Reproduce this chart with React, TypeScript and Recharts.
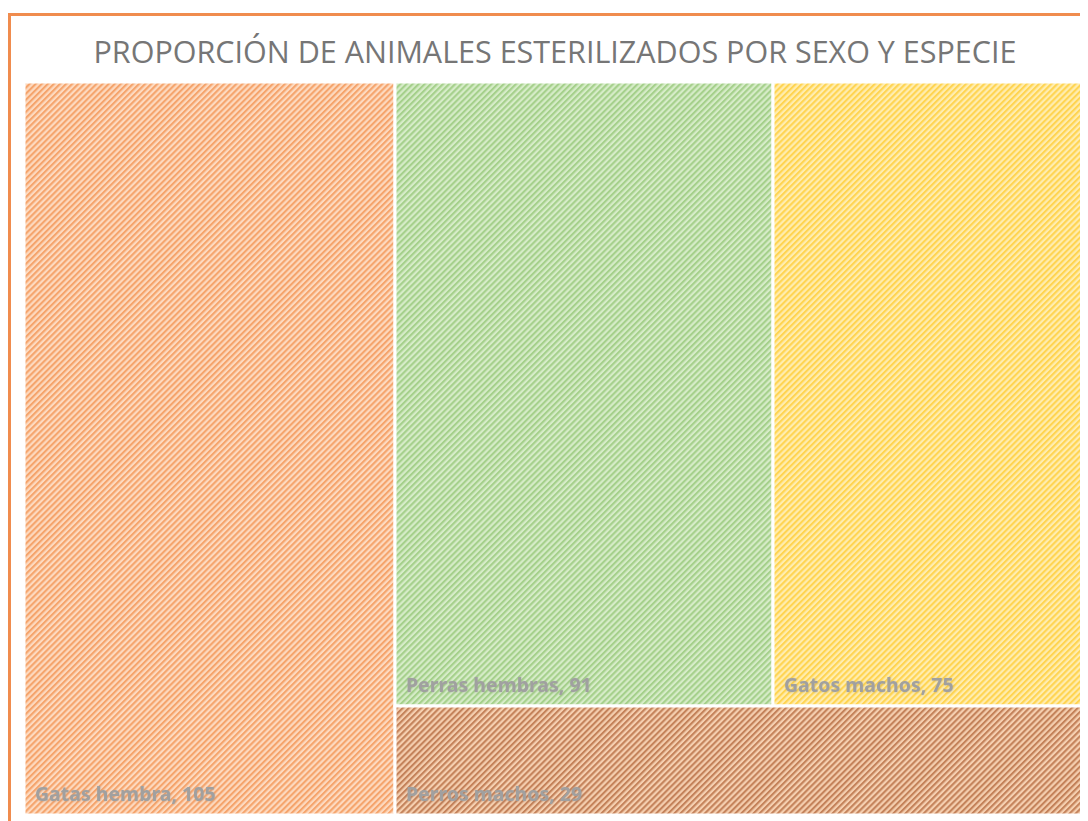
import React from "react";
import { Treemap } from "recharts";

const title = "PROPORCIÓN DE ANIMALES ESTERILIZADOS POR SEXO Y ESPECIE";
const categories = ["Gatas hembra", "Perras hembras", "Gatos machos", "Perros machos"];
const values = [105, 91, 75, 29];

// Excel's layout: first cell alone on the left, the other three share the rest
const treeData = [
  { name: categories[0], size: values[0] },
  {
    name: "resto",
    children: categories.slice(1).map((name, i) => ({ name, size: values[i + 1] })),
  },
];

const stripes: Record<string, { light: string; dark: string }> = {
  "Gatas hembra": { light: "#FDDAC0", dark: "#F5A46C" },
  "Perras hembras": { light: "#D6ECC8", dark: "#A5D08B" },
  "Gatos machos": { light: "#FFEDB0", dark: "#FFD451" },
  "Perros machos": { light: "#F5CFB0", dark: "#C4825A" },
};

const patternId = (name: string) => "hatch-" + categories.indexOf(name);

function Cell(props: any) {
  const { x, y, width, height, name, value } = props;
  if (!stripes[name]) return <g />;
  return (
    <g>
      <rect
        x={x}
        y={y}
        width={width}
        height={height}
        fill={`url(#${patternId(name)})`}
        stroke="#ffffff"
        strokeWidth={3}
      />
      <text
        x={x + 11}
        y={y + height - 14}
        fill="#A0A0A0"
        fontFamily="'Noto Sans', sans-serif"
        fontWeight={700}
        fontSize={19.5}
        filter="url(#labelShadow)"
      >
        {`${name}, ${value}`}
      </text>
    </g>
  );
}

export default function App() {
  return (
    <div style={{ position: "relative", width: 1080, height: 813, overflow: "hidden", background: "#fff" }}>
      <div
        style={{
          position: "absolute",
          left: 0,
          top: 5,
          width: 2000,
          height: 2000,
          border: "3px solid #F08C4E",
          boxSizing: "border-box",
        }}
      />
      <svg width={1080} height={74} style={{ position: "absolute", left: 0, top: 0 }}>
        <defs>
          {categories.map((name) => (
            <pattern
              key={name}
              id={patternId(name)}
              width={4.3}
              height={4.3}
              patternUnits="userSpaceOnUse"
              patternTransform="rotate(45)"
            >
              <rect x={0} y={0} width={4.3} height={4.3} fill={stripes[name].light} />
              <rect x={0} y={0} width={2.1} height={4.3} fill={stripes[name].dark} />
            </pattern>
          ))}
          <filter id="labelShadow" x="-5%" y="-30%" width="110%" height="160%">
            <feDropShadow dx={0.5} dy={0.5} stdDeviation={1} floodColor="#888" floodOpacity={0.35} />
          </filter>
        </defs>
        <text
          x={547}
          y={55}
          textAnchor="middle"
          fill="#767676"
          fontFamily="'Open Sans', sans-serif"
          fontSize={30.5}
        >
          {title}
        </text>
      </svg>
      <div style={{ position: "absolute", left: 16, top: 74 }}>
        <Treemap
          width={1061}
          height={733}
          data={treeData}
          dataKey="size"
          nameKey="name"
          aspectRatio={1.2}
          isAnimationActive={false}
          content={(p: any) => <Cell {...p} />}
        />
      </div>
    </div>
  );
}
